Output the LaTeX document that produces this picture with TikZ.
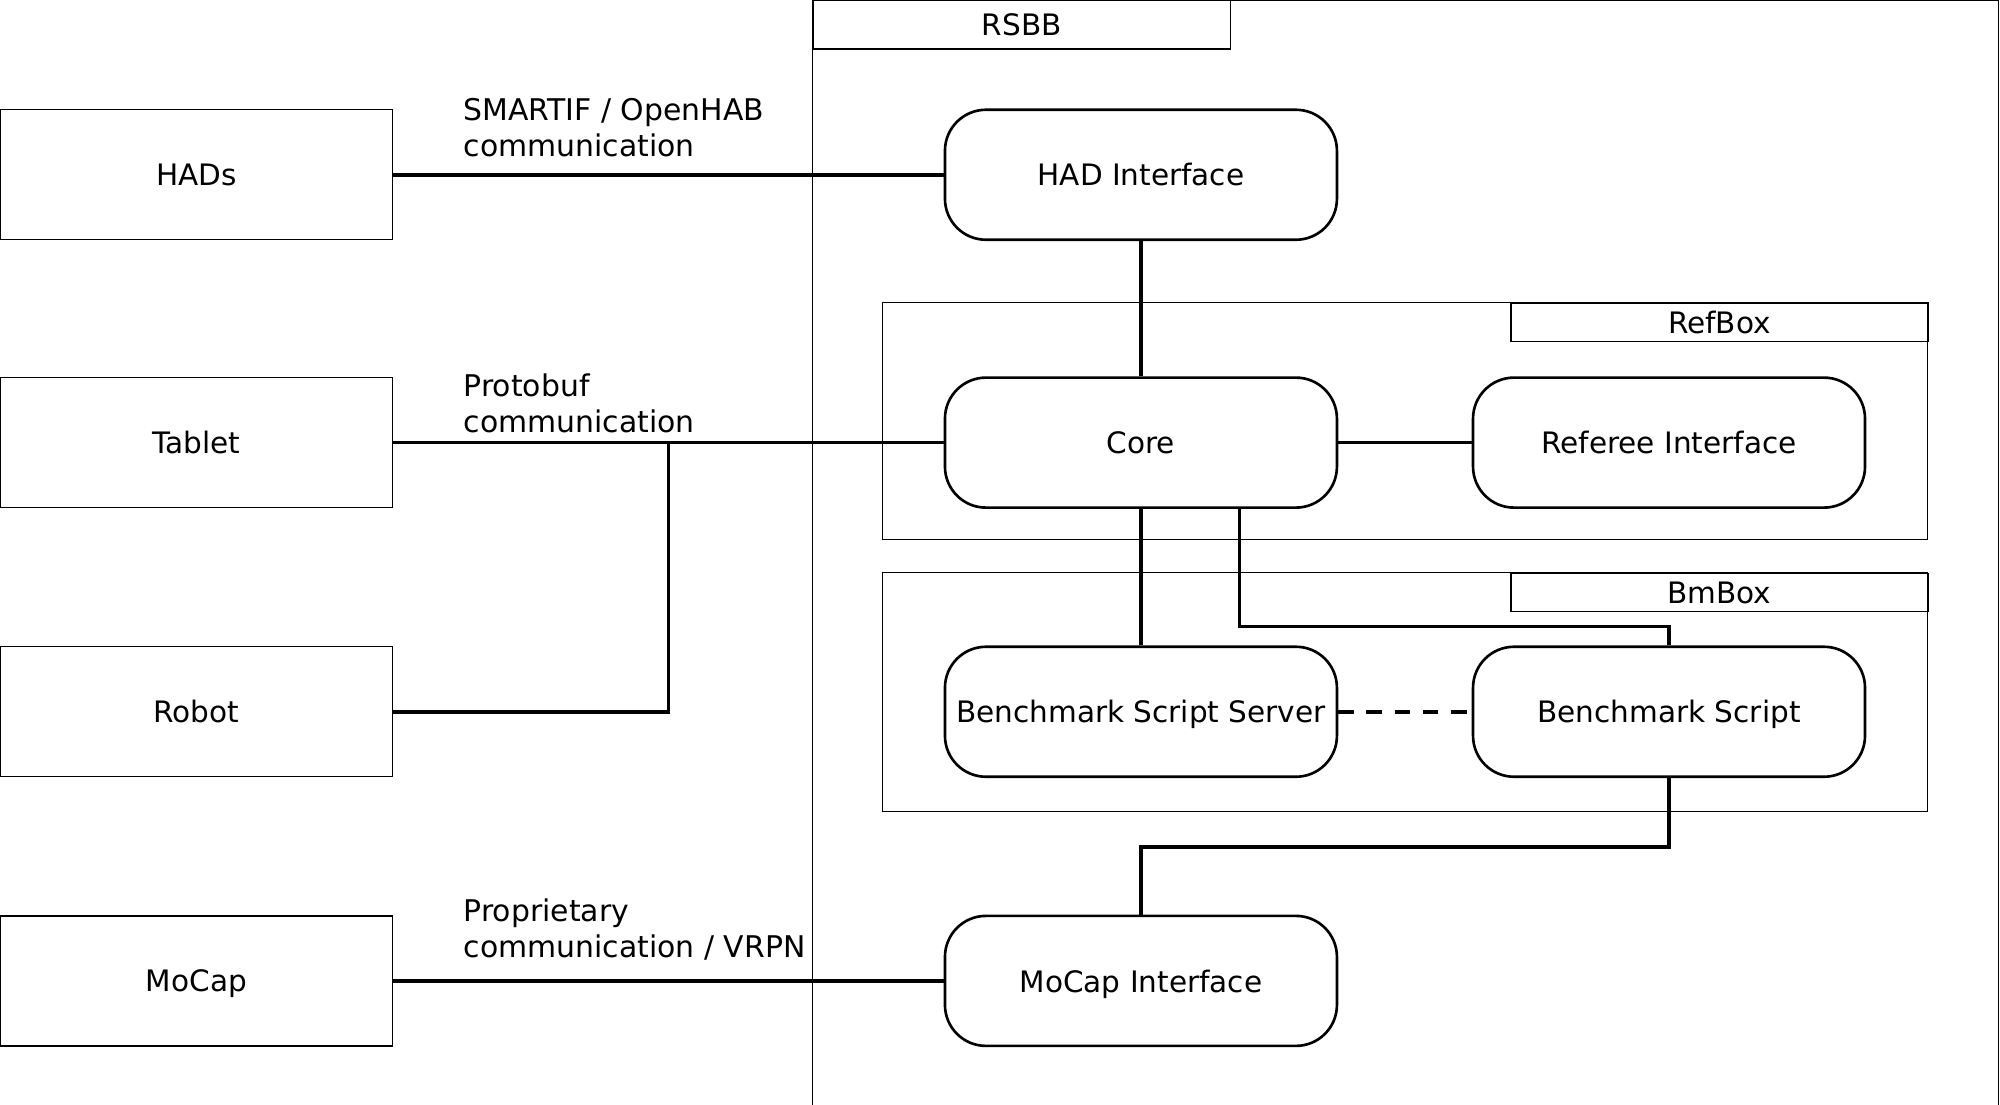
\documentclass[tikz,border=0pt]{standalone}
\usepackage{fontspec}
\setmainfont{DejaVu Sans}
\usetikzlibrary{calc,positioning}
\tikzset{
  extbox/.style={draw,line width=0.4pt,minimum width=3.92cm,minimum height=1.30cm,inner sep=0pt,text depth=0pt},
  compbox/.style={draw,line width=0.75pt,rounded corners=0.41cm,minimum width=3.92cm,minimum height=1.30cm,inner sep=0pt,text depth=0pt},
  tabbox/.style={draw,line width=0.4pt,inner sep=0pt},
  link/.style={line width=1pt},
  lbl/.style={anchor=west,align=left,inner sep=0pt,font=\fontsize{8.5pt}{10.2pt}\selectfont}
}
\begin{document}
\begin{tikzpicture}[x=0.012755cm,y=-0.012755cm,font=\fontsize{8.4pt}{10.2pt}\selectfont]
    \useasboundingbox (0,0) rectangle (1568,866);

    \draw[line width=0.4pt] (637,0) rectangle (1567,900);
    \node[tabbox,minimum width=327*0.012755cm,minimum height=38*0.012755cm,anchor=north west] (rsbbtab) at (637,0) {RSBB};

    \draw[line width=0.4pt] (692,237) rectangle (1511,423);
    \node[tabbox,minimum width=327*0.012755cm,minimum height=30*0.012755cm,anchor=north west] (refboxtab) at (1184,237) {RefBox};

    \draw[line width=0.4pt] (692,449) rectangle (1511,636);
    \node[tabbox,minimum width=327*0.012755cm,minimum height=30*0.012755cm,anchor=north west] (bmboxtab) at (1184,449) {BmBox};

    \node[extbox] (hads) at (154,137) {HADs};
    \node[extbox] (tablet) at (154,347) {Tablet};
    \node[extbox] (robot) at (154,558) {Robot};
    \node[extbox] (mocap) at (154,769) {MoCap};

    \node[compbox] (hadif) at (894.5,137) {HAD Interface};
    \node[compbox] (core) at (894.5,347) {Core};
    \node[compbox] (referee) at (1308.5,347) {Referee Interface};
    \node[compbox] (bss) at (894.5,558) {Benchmark Script Server};
    \node[compbox] (bs) at (1308.5,558) {Benchmark Script};
    \node[compbox] (mocapif) at (894.5,769) {MoCap Interface};

    \node[lbl] (hadslbl) at (363,100) {SMARTIF / OpenHAB\\communication};
    \node[lbl] (tabletlbl) at (363,316.5) {Protobuf\\communication};
    \node[lbl] (mocaplbl) at (363,728.5) {Proprietary\\communication / VRPN};

    \coordinate (junction) at (524,347);

    \draw[link] (hads.east) -- (hadif.west);
    \draw[link] (tablet.east) -- (core.west);
    \draw[link] (robot.east) -| (junction);
    \draw[link] (mocap.east) -- (mocapif.west);
    \draw[link] (hadif.south) -- (core.north);
    \draw[link] (core.east) -- (referee.west);
    \draw[link] (core.south) -- (bss.north);
    \draw[link] ($(core.south west)!0.75!(core.south east)$) -- ++(0,92) -| (bs.north);
    \draw[link,line width=1.1pt,dash pattern=on 4.5pt off 3.5pt] (bss.east) -- (bs.west);
    \draw[link] (bs.south) -- ++(0,54) -| (mocapif.north);
\end{tikzpicture}
\end{document}
